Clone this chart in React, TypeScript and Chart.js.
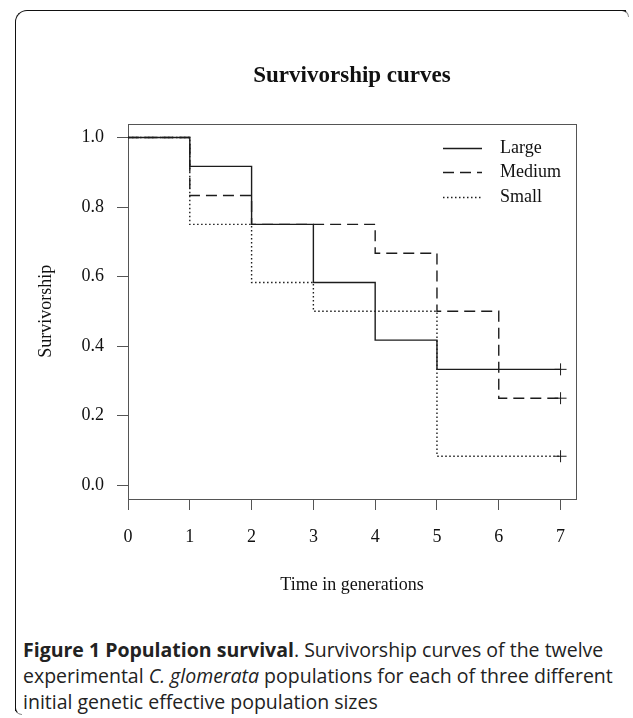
import React, { useEffect, useRef } from "react";
import { Chart, registerables } from "chart.js";

Chart.register(...registerables);

// ---- Data ----
const SERIES_LABELS = ["Large", "Medium", "Small"];
const TIME_LARGE = [0, 1, 2, 3, 4, 5, 7];
const SURV_LARGE = [1.0, 0.917, 0.75, 0.583, 0.417, 0.333, 0.333];
const TIME_MEDIUM = [0, 1, 2, 4, 5, 6, 7];
const SURV_MEDIUM = [1.0, 0.833, 0.75, 0.667, 0.5, 0.25, 0.25];
const TIME_SMALL = [0, 1, 2, 3, 5, 7];
const SURV_SMALL = [1.0, 0.75, 0.583, 0.5, 0.083, 0.083];
const X_TICKS = [0, 1, 2, 3, 4, 5, 6, 7];
const Y_TICKS = [0, 0.2, 0.4, 0.6, 0.8, 1.0];

const TITLE = "Survivorship curves";
const X_TITLE = "Time in generations";
const Y_TITLE = "Survivorship";

const SERIF = "'Liberation Serif', 'Times New Roman', serif";
const LINE = "#1c1c1c";
const AXIS = "#555555";

export default function App() {
  const ref = useRef<HTMLCanvasElement | null>(null);

  useEffect(() => {
    document.body.style.margin = "0";
    const canvas = ref.current;
    if (!canvas) return;

    const pts = (xs: number[], ys: number[]) => xs.map((x, i) => ({ x, y: ys[i] }));
    const dashes = [[], [11, 6], [1.5, 2.5]];
    const series = [
      pts(TIME_LARGE, SURV_LARGE),
      pts(TIME_MEDIUM, SURV_MEDIUM),
      pts(TIME_SMALL, SURV_SMALL),
    ];

    const datasets = series.map((data, i) => ({
      label: SERIES_LABELS[i],
      data,
      stepped: "before" as const,
      borderColor: LINE,
      borderWidth: 1.4,
      borderDash: dashes[i],
      fill: false,
      tension: 0,
      pointStyle: "cross" as const,
      pointRadius: (c: any) => (c.dataIndex === data.length - 1 ? 6 : 0),
      pointHoverRadius: 0,
      pointBorderColor: LINE,
      pointBorderWidth: 1,
    }));

    const boxPlugin = {
      id: "plotBox",
      beforeDatasetsDraw(chart: any) {
        const { ctx, chartArea: a } = chart;
        ctx.save();
        ctx.strokeStyle = AXIS;
        ctx.lineWidth = 1;
        ctx.strokeRect(
          Math.round(a.left) + 0.5,
          Math.round(a.top) + 0.5,
          Math.round(a.right) - Math.round(a.left),
          Math.round(a.bottom) - Math.round(a.top)
        );
        ctx.restore();
      },
    };

    const legendPlugin = {
      id: "insideLegend",
      afterDatasetsDraw(chart: any) {
        const { ctx, chartArea: a } = chart;
        ctx.save();
        chart.data.datasets.forEach((ds: any, i: number) => {
          const y = Math.round(a.top + 24 + i * 24.5) + 0.5;
          ctx.strokeStyle = ds.borderColor;
          ctx.lineWidth = ds.borderWidth;
          ctx.setLineDash(ds.borderDash || []);
          ctx.beginPath();
          ctx.moveTo(a.right - 133, y);
          ctx.lineTo(a.right - 94, y);
          ctx.stroke();
          ctx.setLineDash([]);
          ctx.fillStyle = "#111";
          ctx.font = `18px ${SERIF}`;
          ctx.textAlign = "left";
          ctx.textBaseline = "middle";
          ctx.fillText(ds.label, a.right - 76, y);
        });
        ctx.restore();
      },
    };

    const chart = new Chart(canvas, {
      type: "line",
      data: { datasets },
      plugins: [boxPlugin, legendPlugin],
      options: {
        animation: false,
        responsive: false,
        maintainAspectRatio: false,
        events: [],
        layout: { padding: { left: 0, right: 57, top: 0, bottom: 0 } },
        plugins: {
          legend: { display: false },
          tooltip: { enabled: false },
          title: {
            display: true,
            text: TITLE,
            fullSize: false,
            color: "#111",
            font: { family: SERIF, size: 23, weight: "bold" },
            padding: { top: 62, bottom: 34 },
          },
        },
        scales: {
          x: {
            type: "linear",
            min: 0,
            max: 7.25,
            afterBuildTicks: (s: any) => {
              s.ticks = X_TICKS.map((v) => ({ value: v }));
            },
            afterFit: (s: any) => {
              s.height = 111;
            },
            ticks: {
              color: "#111",
              font: { family: SERIF, size: 18 },
              padding: 16,
              maxRotation: 0,
              autoSkip: false,
              callback: (v: any) => String(v),
            },
            grid: {
              drawOnChartArea: false,
              drawTicks: true,
              tickLength: 11,
              color: AXIS,
              lineWidth: 1,
            },
            border: { display: false },
            title: {
              display: true,
              text: X_TITLE,
              color: "#111",
              font: { family: SERIF, size: 18 },
              padding: { top: 0, bottom: 14 },
            },
          },
          y: {
            type: "linear",
            min: -0.04,
            max: 1.04,
            afterBuildTicks: (s: any) => {
              s.ticks = Y_TICKS.map((v) => ({ value: v }));
            },
            afterFit: (s: any) => {
              s.width = 128;
            },
            ticks: {
              color: "#111",
              font: { family: SERIF, size: 18 },
              padding: 13,
              autoSkip: false,
              callback: (v: any) => Number(v).toFixed(1),
            },
            grid: {
              drawOnChartArea: false,
              drawTicks: true,
              tickLength: 11,
              color: AXIS,
              lineWidth: 1,
            },
            border: { display: false },
            title: {
              display: true,
              text: Y_TITLE,
              color: "#111",
              font: { family: SERIF, size: 18 },
              padding: { top: 35, bottom: 0 },
            },
          },
        },
      },
    } as any);

    return () => chart.destroy();
  }, []);

  return (
    <div
      style={{
        position: "absolute",
        left: 0,
        top: 0,
        width: 633,
        height: 718,
        overflow: "hidden",
        background: "#fff",
      }}
    >
      <div
        style={{
          position: "absolute",
          left: 15,
          top: 10,
          width: 610,
          height: 700,
          borderTop: "1px solid #111",
          borderLeft: "1px solid #111",
          borderTopLeftRadius: 12,
        }}
      />
      <div
        style={{
          position: "absolute",
          left: 620,
          top: 10,
          width: 8,
          height: 6,
          borderTop: "1px solid #111",
          borderRight: "1px solid #888",
          borderTopRightRadius: 8,
        }}
      />
      <div
        style={{
          position: "absolute",
          left: 15,
          top: 706,
          width: 6,
          height: 8,
          borderLeft: "1px solid #111",
          borderBottom: "1px solid #888",
          borderBottomLeftRadius: 8,
        }}
      />
      <canvas
        ref={ref}
        width={633}
        height={610}
        style={{ position: "absolute", left: 0, top: 0, width: 633, height: 610 }}
      />
      <div
        style={{
          position: "absolute",
          left: 23,
          top: 637,
          width: 606,
          fontFamily: "'Open Sans', 'Noto Sans', sans-serif",
          fontSize: 19.5,
          lineHeight: "26px",
          color: "#222",
          textAlign: "left",
        }}
      >
        <b>Figure 1 Population survival</b>. Survivorship curves of the twelve experimental{" "}
        <i>C. glomerata</i> populations for each of three different initial genetic effective
        population sizes
      </div>
    </div>
  );
}
